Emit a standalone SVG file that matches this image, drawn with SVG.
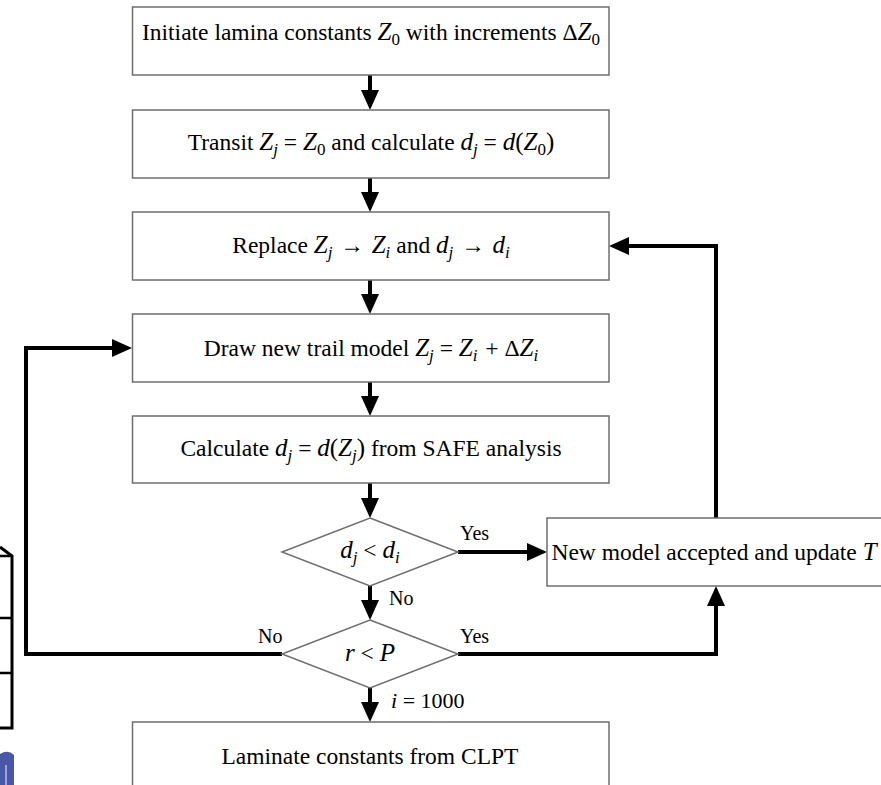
<svg xmlns="http://www.w3.org/2000/svg" width="881" height="785" viewBox="0 0 881 785">
<defs>
<marker id="ah" markerUnits="userSpaceOnUse" markerWidth="22" markerHeight="20" viewBox="0 -10 22 20" refX="10" refY="0" orient="auto">
<path d="M0,-9 L20,0 L0,9 Z" fill="#000"/>
</marker>
<style>
.box{fill:#fff;stroke:#6e6e6e;stroke-width:1.5}
.t{font-family:"Liberation Serif","Times New Roman",serif;font-size:23.5px;fill:#000;text-anchor:middle}
.lb{font-family:"Liberation Serif","Times New Roman",serif;font-size:20px;fill:#000}
.m{font-style:italic;font-size:25px}
.s{font-size:17px}
.c{fill:none;stroke:#000;stroke-width:4;stroke-linejoin:miter;marker-end:url(#ah)}
.frag{fill:none;stroke:#000;stroke-width:3}
</style>
</defs>
<rect width="881" height="785" fill="#fff"/>

<g id="fragment">
<path class="frag" d="M0,547 L12,556 V728 H0"/>
<path d="M0,556 H13 M0,618 H13 M0,673 H13" stroke="#000" stroke-width="2.5" fill="none"/>
<path d="M0,754 Q8,749 14,755 V785 H0 Z" fill="#4a56a6"/>
<path d="M6,765 V785" stroke="#9aa4dc" stroke-width="2"/>
</g>

<g id="connectors">
<path class="c" d="M370,75 V100"/>
<path class="c" d="M370,178 V202"/>
<path class="c" d="M370,280 V304"/>
<path class="c" d="M370,382 V406"/>
<path class="c" d="M370,483 V508"/>
<path class="c" d="M370,586 V610"/>
<path class="c" d="M370,688 V712"/>
<path class="c" d="M458,552 H537"/>
<path class="c" d="M716,518 V246 H619"/>
<path class="c" d="M458,654 H716 V596"/>
<path class="c" d="M282,654 H26 V348 H122"/>
</g>

<g id="n1">
<rect class="box" x="132.5" y="7" width="476.5" height="68"/>
<text class="t" x="371" y="40">Initiate lamina constants <tspan class="m">Z</tspan><tspan class="s" dy="5">0</tspan><tspan dy="-5"> with increments Δ</tspan><tspan class="m">Z</tspan><tspan class="s" dy="5">0</tspan></text>
</g>
<g id="n2">
<rect class="box" x="132.5" y="110" width="476.5" height="68"/>
<text class="t" x="371" y="150">Transit <tspan class="m">Z</tspan><tspan class="s m" dy="5">j</tspan><tspan dy="-5"> = </tspan><tspan class="m">Z</tspan><tspan class="s" dy="5">0</tspan><tspan dy="-5"> and calculate </tspan><tspan class="m">d</tspan><tspan class="s m" dy="5">j</tspan><tspan dy="-5"> = </tspan><tspan class="m">d</tspan><tspan style="font-size:25px">(</tspan><tspan class="m">Z</tspan><tspan class="s" dy="5">0</tspan><tspan dy="-5" style="font-size:25px">)</tspan></text>
</g>
<g id="n3">
<rect class="box" x="132.5" y="212" width="476.5" height="68"/>
<text class="t" x="371" y="253">Replace <tspan class="m">Z</tspan><tspan class="s m" dy="5">j</tspan><tspan dy="-5" dx="2"> → </tspan><tspan class="m" dx="2">Z</tspan><tspan class="s m" dy="5">i</tspan><tspan dy="-5"> and </tspan><tspan class="m">d</tspan><tspan class="s m" dy="5">j</tspan><tspan dy="-5" dx="2"> → </tspan><tspan class="m" dx="2">d</tspan><tspan class="s m" dy="5">i</tspan></text>
</g>
<g id="n4">
<rect class="box" x="132.5" y="314" width="476.5" height="68"/>
<text class="t" x="371" y="356">Draw new trail model <tspan class="m">Z</tspan><tspan class="s m" dy="5">j</tspan><tspan dy="-5"> = </tspan><tspan class="m">Z</tspan><tspan class="s m" dy="5">i</tspan><tspan dy="-5" dx="2"> + Δ</tspan><tspan class="m">Z</tspan><tspan class="s m" dy="5">i</tspan></text>
</g>
<g id="n5">
<rect class="box" x="132.5" y="416" width="476.5" height="67"/>
<text class="t" x="371" y="456">Calculate <tspan class="m">d</tspan><tspan class="s m" dy="5">j</tspan><tspan dy="-5"> = </tspan><tspan class="m">d</tspan><tspan style="font-size:25px">(</tspan><tspan class="m">Z</tspan><tspan class="s m" dy="5">j</tspan><tspan dy="-5"><tspan style="font-size:25px">)</tspan> from SAFE analysis</tspan></text>
</g>
<g id="d1">
<polygon class="box" points="370,518 458,552 370,586 282,552"/>
<text class="t" x="370" y="558"><tspan class="m">d</tspan><tspan class="s m" dy="5">j</tspan><tspan dy="-5"> &lt; </tspan><tspan class="m">d</tspan><tspan class="s m" dy="5">i</tspan></text>
</g>
<g id="d2">
<polygon class="box" points="370,620 458,654 370,688 282,654"/>
<text class="t" x="370" y="661"><tspan class="m">r</tspan> &lt; <tspan class="m">P</tspan></text>
</g>
<g id="n7">
<rect class="box" x="547" y="518" width="340" height="68"/>
<text class="t" x="714" y="560">New model accepted and update <tspan class="m">T</tspan></text>
</g>
<g id="n6">
<rect class="box" x="132.5" y="722" width="476.5" height="68"/>
<text class="t" x="370" y="764">Laminate constants from CLPT</text>
</g>
<g id="labels">
<text class="lb" x="460" y="540">Yes</text>
<text class="lb" x="389" y="605">No</text>
<text class="lb" x="460" y="643">Yes</text>
<text class="lb" x="258" y="643">No</text>
<text class="lb" x="391" y="708" style="font-size:22px"><tspan font-style="italic">i</tspan> = 1000</text>
</g>
</svg>
